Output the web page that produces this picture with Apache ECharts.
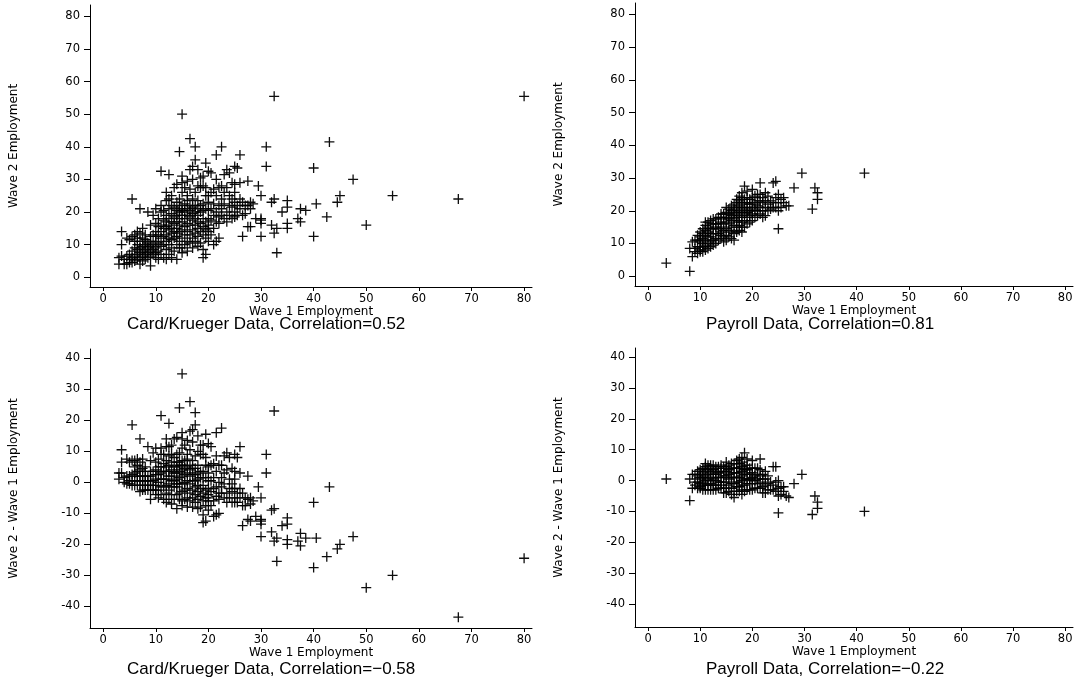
<!DOCTYPE html>
<html>
<head>
<meta charset="utf-8">
<script src="https://cdn.jsdelivr.net/npm/echarts@6/dist/echarts.min.js"></script>
<style>html,body{margin:0;padding:0;background:#fff}#c{width:1085px;height:681px}</style>
</head>
<body>
<div id="c"></div>
<script>
// Card/Krueger data: [wave 1 employment, wave 2 employment]
const cardKruegerPairs = [
[3,4],[3,6],[3.5,6.5],[3.5,10],[3.5,14],[4,4],[4,5.5],[4.5,6.5],[4.5,4],[4.5,12],[5,4.5],[5,5.5],[5,7],[5,11.5],[5.5,24],[5.5,4.5],[5.5,6],[5.5,8],[5.5,12.5],
[6,5],[6,6.5],[6,9],[6,11],[6,13],[6.5,5.5],[6.5,7],[6.5,8.5],[6.5,10],[6.5,12],[6.5,14],[7,4],[7,6],[7,7.5],[7,9],[7,11],[7,13.5],[7,21],
[7.5,5],[7.5,6.5],[7.5,8],[7.5,9.5],[7.5,12],[7.5,15],[8,5.5],[8,7],[8,8.5],[8,10],[8,11.5],[8,13],[8.5,6],[8.5,7.5],[8.5,9],[8.5,10.5],[8.5,20],
[9,3.5],[9,6.5],[9,8],[9,9.5],[9,11],[9,12.5],[9,16],[9.5,7],[9.5,8.5],[9.5,10],[9.5,13],[9.5,19],[10,6],[10,7.5],[10,9],[10,11],[10,12.5],[10,14],[10,16.5],[10,21],
[10.5,8],[10.5,10.5],[10.5,13],[10.5,15.5],[10.5,18],[10.5,5.5],[11,7],[11,9.5],[11,12],[11,14],[11,16],[11,20],[11,22],[11,32.5],
[11.5,6],[11.5,10],[11.5,12.5],[11.5,15],[11.5,17.5],[11.5,20.5],[12,5.5],[12,8.5],[12,11],[12,13],[12,15.5],[12,17],[12,19],[12,23.5],[12,26],
[12.5,7],[12.5,10],[12.5,12],[12.5,14.5],[12.5,16],[12.5,18],[12.5,21],[12.5,31.5],[12.5,24],[13,6],[13,9],[13,11.5],[13,13.5],[13,15],[13,17],[13,19.5],[13,22],[13,25],
[13.5,8],[13.5,12],[13.5,14],[13.5,16.5],[13.5,18.5],[13.5,21.5],[13.5,27.5],[14,5.5],[14,10],[14,12.5],[14,15],[14,17],[14,19],[14,20.5],[14,23],[14,28.5],[14,13.5],
[14.5,9],[14.5,11],[14.5,14],[14.5,16],[14.5,18],[14.5,21],[14.5,24],[14.5,38.5],[14.5,20],[15,7.5],[15,12],[15,14.5],[15,17],[15,19],[15,20.5],[15,22],[15,26],[15,29],[15,31],[15,50],[15,9],
[15.5,10],[15.5,13],[15.5,15.5],[15.5,18],[15.5,20],[15.5,22.5],[15.5,27.5],[16,8],[16,11],[16,14],[16,16.5],[16,19],[16,21],[16,23.5],[16,25],[16,29.5],
[16.5,10.5],[16.5,13],[16.5,16],[16.5,18.5],[16.5,20.5],[16.5,22],[16.5,27],[16.5,42.5],[16.5,33],[17,9],[17,12],[17,14.5],[17,17.5],[17,19.5],[17,21.5],[17,24],[17,30],[17,34],
[17.5,11],[17.5,13.5],[17.5,16],[17.5,18],[17.5,20],[17.5,22],[17.5,26],[17.5,36],[17.5,40],[18,9.5],[18,12.5],[18,15],[18,17],[18,19],[18,21],[18,23.5],[18,28],[18,33],
[18.5,10.5],[18.5,14],[18.5,16.5],[18.5,20],[18.5,22],[18.5,27.5],[18.5,30.5],[19,6],[19,8.5],[19,13],[19,15.5],[19,18],[19,20.5],[19,22.5],[19,28],[19,31],
[19.5,7],[19.5,12],[19.5,14.5],[19.5,17],[19.5,21],[19.5,25],[19.5,27.5],[19.5,35],[20,11],[20,14],[20,16],[20,18],[20,20.5],[20,23],[20,25],[20,32.5],[20,15],
[20.5,13],[20.5,17.5],[20.5,21],[20.5,26],[20.5,32],[21,15],[21,19],[21,22.5],[21,27],[21,10],[21.5,11],[21.5,17],[21.5,20],[21.5,25],[21.5,37.5],[21.5,30],
[22,12],[22,16.5],[22,18.5],[22,22],[22,27.5],[22.5,19],[22.5,21],[22.5,24],[22.5,40],[22.5,28],[23,18],[23,22.5],[23,26],[23,31.5],[23.5,17],[23.5,20],[23.5,27.5],[23.5,33],
[24,19],[24,22],[24,25],[24,32],[24.5,18],[24.5,21.5],[24.5,24],[24.5,29],[25,18.5],[25,20],[25,23],[25,26],[25,28.5],[25,34],[25.5,19],[25.5,22],[25.5,33.5],
[26,21],[26,24],[26,29],[26,37.5],[26.5,12.5],[26.5,19],[26.5,23],[27,19.5],[27,22],[27.5,15.5],[27.5,22],[27.5,29.5],[28,15.5],[28,21],[28,23],
[28.5,22.5],[29,18],[29.5,28],[30,12.5],[30,17.5],[30,18],[30,25],[30,16.5],
[31,40],[31,34],[32,16],[32,23],[32.5,24],[32.5,55.5],[32.5,13.5],[33,7.5],[33,15],[34,20],[35,15],[35,16.5],[35,21.5],[35,23.5],[37,18],[37.5,17],[37.5,21],[38.5,20.5],
[40,33.5],[40,12.5],[40.5,22.5],[42.5,18.5],[43,41.5],[44.5,23],[45,25],[47.5,30],[50,16],[55,25],[67.5,24],[80,55.5]
];

// Payroll data: [wave 1 employment, wave 2 employment]
const payrollPairs = [
[3.5,4],[8,1.5],[8,8.5],[8.5,10.5],[8.5,6],[9,7.5],[9,11],[9,8.5],[9.5,7],[9.5,9],[9.5,11],[9.5,12.5],[10,7.5],[10,9],[10,10.5],[10,12],[10,13.5],[10,8],[10,11],
[10.5,7.5],[10.5,9],[10.5,10],[10.5,11.5],[10.5,13],[10.5,14.5],[11,8],[11,9.5],[11,11],[11,12.5],[11,14],[11,15.5],[11,16.5],[11.5,8.5],[11.5,10],[11.5,12],[11.5,13.5],[11.5,15],[11.5,16.5],
[12,9],[12,10.5],[12,12],[12,13],[12,14.5],[12,16],[12,17],[12,11],[12.5,9.5],[12.5,11],[12.5,13],[12.5,14.5],[12.5,16],[12.5,17.5],[13,10],[13,11.5],[13,13],[13,15],[13,16],[13,17.5],
[13.5,11],[13.5,13],[13.5,14.5],[13.5,16],[13.5,18],[14,11.5],[14,13.5],[14,15],[14,16.5],[14,18],[14,19],[14,12.5],
[14.5,10.5],[14.5,12],[14.5,14],[14.5,16],[14.5,17.5],[14.5,19],[15,11],[15,12.5],[15,14.5],[15,16.5],[15,18],[15,19.5],[15,21],[15.5,12],[15.5,14],[15.5,16],[15.5,17.5],[15.5,19],[15.5,20.5],
[16,11.5],[16,13.5],[16,15],[16,17],[16,18.5],[16,20],[16,21.5],[16.5,11],[16.5,13],[16.5,15.5],[16.5,17.5],[16.5,19],[16.5,20.5],[16.5,22],
[17,13.5],[17,15],[17,16.5],[17,18],[17,19.5],[17,21],[17,22.5],[17,23.5],[17.5,14],[17.5,15.5],[17.5,17],[17.5,18.5],[17.5,20],[17.5,21.5],[17.5,23],[17.5,24.5],
[18,13.5],[18,15],[18,16.5],[18,18],[18,19.5],[18,21],[18,22.5],[18,24],[18,25.5],[18.5,15],[18.5,17],[18.5,19],[18.5,20.5],[18.5,22],[18.5,23.5],[18.5,27.5],
[19,16],[19,18],[19,19.5],[19,21],[19,22.5],[19,24],[19,26],[19.5,16.5],[19.5,18.5],[19.5,20],[19.5,22],[19.5,23.5],[20,17],[20,19],[20,21],[20,22.5],[20,24],[20,26.5],[20,20],
[20.5,18],[20.5,20.5],[20.5,22],[20.5,24.5],[21,18.5],[21,20],[21,21.5],[21,23],[21,25],[21.5,19],[21.5,21],[21.5,23],[21.5,25],[21.5,28.5],[22,18],[22,20],[22,22.5],[22,24],
[22.5,18.5],[22.5,21],[22.5,23],[22.5,25.5],[23,20],[23,22],[23,24.5],[23.5,20.5],[23.5,23],[24,21],[24,22.5],[24,28.5],[24.5,21],[24.5,24],[24.5,29],
[25,20],[25,22.5],[25,25],[25,14.5],[25.5,21],[25.5,23.5],[26,24],[26,22.5],[26.5,21.5],[27,21.5],[28,27],[29.5,31.5],
[31.5,20.5],[32,27],[32.5,25.5],[32.5,23.5],[41.5,31.5]
];

const xTicks = [0, 10, 20, 30, 40, 50, 60, 70, 80];
const levelTicks = [0, 10, 20, 30, 40, 50, 60, 70, 80];
const changeTicks = [-40, -30, -20, -10, 0, 10, 20, 30, 40];

const panelTitles = [
  'Card/Krueger Data, Correlation=0.52',
  'Payroll Data, Correlation=0.81',
  'Card/Krueger Data, Correlation=\u22120.58',
  'Payroll Data, Correlation=\u22120.22'
];
const xName = 'Wave 1 Employment';
const yNames = ['Wave 2 Employment', 'Wave 2 Employment', 'Wave 2 - Wave 1 Employment', 'Wave 2 - Wave 1 Employment'];

// Change in employment derived from the pairs (wave 2 minus wave 1), as in the original figure
const ckChange = cardKruegerPairs.map(p => [p[0], p[1] - p[0]]);
const payChange = payrollPairs.map(p => [p[0], p[1] - p[0]]);

const grids = [
  {left: 90, top: 5, width: 442, height: 282},
  {left: 635, top: 3, width: 438, height: 283},
  {left: 90, top: 349, width: 442, height: 279},
  {left: 635, top: 348, width: 438, height: 279}
];
const yRanges = [[-3, 83.5], [-3, 83.5], [-47, 43], [-47.5, 43]];
const yTickSets = [levelTicks, levelTicks, changeTicks, changeTicks];
const titlePos = [[127, 316], [706, 316], [127, 661], [706, 661]];

const tickFont = 'DejaVu Sans';
const plus = 'path://M4.35,0H5.65V4.35H10V5.65H5.65V10H4.35V5.65H0V4.35H4.35Z';

const xAxes = grids.map((g, i) => ({
  type: 'value', gridIndex: i, min: -2.5, max: 81.5,
  name: xName, nameLocation: 'middle', nameGap: 16,
  nameTextStyle: {fontFamily: tickFont, fontSize: 12, color: '#000'},
  axisLine: {show: true, onZero: false, lineStyle: {color: '#000', width: 1}},
  axisTick: {show: true, length: 4, customValues: xTicks, lineStyle: {color: '#000'}},
  axisLabel: {customValues: xTicks, margin: 6, fontFamily: tickFont, fontSize: 11.5, color: '#000'},
  splitLine: {show: false}
}));
const yAxes = grids.map((g, i) => ({
  type: 'value', gridIndex: i, min: yRanges[i][0], max: yRanges[i][1],
  name: yNames[i], nameLocation: 'middle', nameGap: 70,
  nameTextStyle: {fontFamily: tickFont, fontSize: 12, color: '#000'},
  axisLine: {show: true, onZero: false, lineStyle: {color: '#000', width: 1}},
  axisTick: {show: true, length: 6, customValues: yTickSets[i], lineStyle: {color: '#000'}},
  axisLabel: {customValues: yTickSets[i], margin: 10, fontFamily: tickFont, fontSize: 11.5, color: '#000'},
  splitLine: {show: false}
}));

const seriesData = [cardKruegerPairs, payrollPairs, ckChange, payChange];
const series = seriesData.map((d, i) => ({
  type: 'scatter', xAxisIndex: i, yAxisIndex: i, data: d,
  symbol: plus, symbolSize: 10,
  itemStyle: {color: '#000', opacity: 0.95},
  silent: true
}));

const titles = panelTitles.map((t, i) => ({
  text: t, left: titlePos[i][0], top: titlePos[i][1], padding: 0,
  textStyle: {fontFamily: 'Liberation Sans', fontSize: 17, fontWeight: 'normal', color: '#000'}
}));

const chart = echarts.init(document.getElementById('c'), null, {renderer: 'canvas'});
chart.setOption({
  animation: false,
  backgroundColor: '#fff',
  title: titles,
  grid: grids,
  xAxis: xAxes,
  yAxis: yAxes,
  series: series
});
</script>
</body>
</html>
